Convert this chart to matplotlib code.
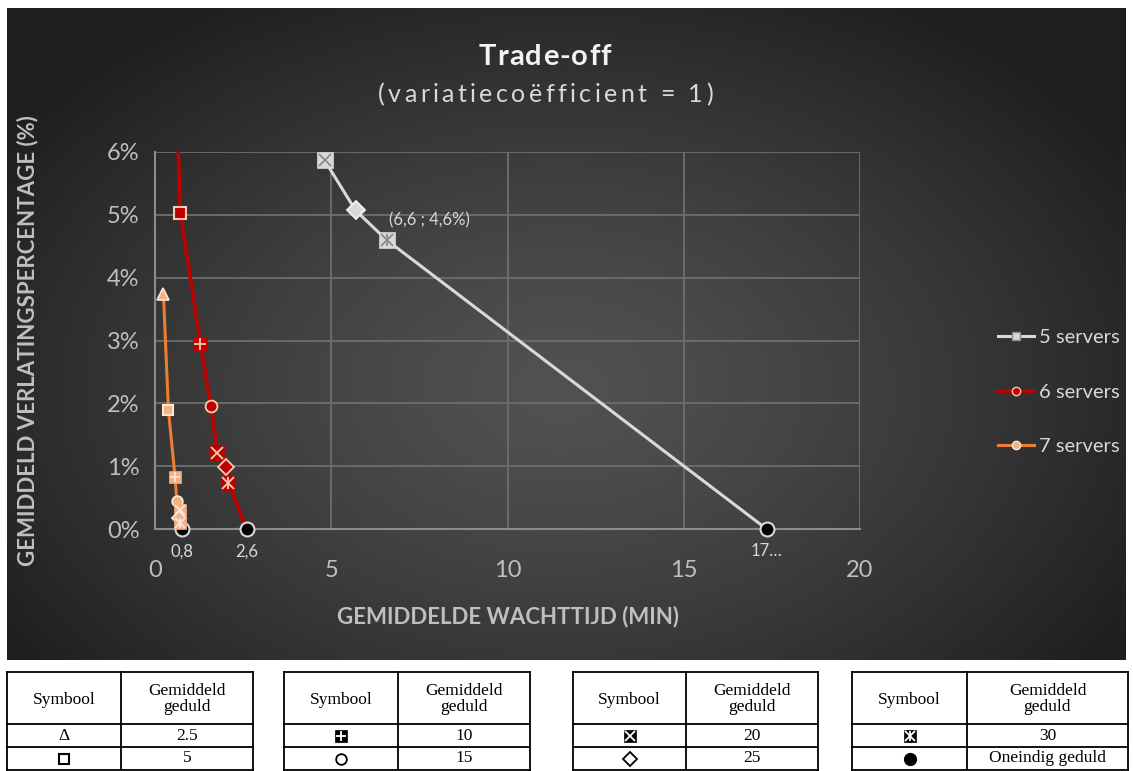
import numpy as np
import matplotlib.pyplot as plt
from matplotlib.lines import Line2D

# data (wachttijd in min, verlating in %)
patience5 = ['20', '25', '30', 'inf']
wait5 = [4.81, 5.69, 6.57, 17.35]
aband5 = [5.87, 5.07, 4.60, 0.0]

patience6 = ['2.5', '5', '10', '15', '20', '25', '30', 'inf']
wait6 = [0.54, 0.72, 1.29, 1.58, 1.77, 2.00, 2.08, 2.60]
aband6 = [8.0, 5.03, 2.95, 1.96, 1.21, 0.99, 0.74, 0.0]

patience7 = ['2.5', '5', '10', '15', '20', '25', '30', 'inf']
wait7 = [0.24, 0.38, 0.57, 0.62, 0.70, 0.67, 0.72, 0.78]
aband7 = [3.74, 1.90, 0.82, 0.45, 0.30, 0.17, 0.10, 0.0]

series_names = ['5 servers', '6 servers', '7 servers']
x_ticks = [0, 5, 10, 15, 20]
y_ticks = [0, 1, 2, 3, 4, 5, 6]

table_symbols = [['2.5', '5'], ['10', '15'], ['20', '25'], ['30', 'inf']]
table_values = [['2.5', '5'], ['10', '15'], ['20', '25'], ['30', 'Oneindig geduld']]

FONT = 'Lato'
TXT = '#d9d9d9'

W, H = 1133, 771
fig = plt.figure(figsize=(W / 100, H / 100), dpi=100)
fig.patch.set_facecolor('white')
renderer = fig.canvas.get_renderer()

# background axes in pixel coordinates
bg = fig.add_axes([0, 0, 1, 1])
bg.set_xlim(0, W)
bg.set_ylim(H, 0)
bg.axis('off')

cx0, cx1, cy0, cy1 = 7, 1126, 8, 660
gx, gy = np.meshgrid(np.linspace(cx0, cx1, 300), np.linspace(cy0, cy1, 200))
d = np.sqrt(((gx - 560) / 620) ** 2 + ((gy - 390) / 420) ** 2)
val = np.clip(0.32 - 0.18 * d ** 1.3, 0.12, 1)
img = np.dstack([val, val, val])
bg.imshow(img, extent=(cx0, cx1, cy1, cy0), aspect='auto', interpolation='bilinear')


def text_width(s, **kw):
    t = bg.text(0, 0, s + 'l', **kw)
    w1 = t.get_window_extent(renderer).width
    t.remove()
    t = bg.text(0, 0, 'l', **kw)
    w2 = t.get_window_extent(renderer).width
    t.remove()
    return w1 - w2


def spaced_text(xc, yc, s, target, **kw):
    # letter-spaced text like the Excel title
    natural = text_width(s, **kw)
    sp = (target - natural) / (len(s) - 1)
    x0 = xc - target / 2
    for i, ch in enumerate(s):
        off = text_width(s[:i], **kw) if i else 0
        bg.text(x0 + off + i * sp, yc, ch, ha='left', va='center', **kw)


def marker(a, x, y, kind, face, line, ms=8, z=5, edge=None):
    kw = dict(clip_on=False, zorder=z)
    if edge is None:
        edge = line
    if kind == '2.5':
        a.plot(x, y, '^', ms=ms, mfc=face, mec=edge, mew=1.2, **kw)
    elif kind == '5':
        a.plot(x, y, 's', ms=ms * 0.85, mfc=face, mec=edge, mew=1.5, **kw)
    elif kind == 'inf':
        a.plot(x, y, 'o', ms=ms, mfc=face, mec=edge, mew=1.5, **kw)
    elif kind == '15':
        a.plot(x, y, 'o', ms=ms * 0.85, mfc=face, mec=edge, mew=1.3, **kw)
    elif kind == '25':
        a.plot(x, y, 'D', ms=ms * 0.8, mfc=face, mec=edge, mew=1.3, **kw)
    else:
        a.plot(x, y, 's', ms=ms, mfc=face, mec=face, mew=0.5, **kw)
        sym = {'10': '+', '20': 'x', '30': 'x'}[kind]
        kw2 = dict(kw, zorder=z + 1)
        a.plot(x, y, sym, ms=ms * 0.8, mec=line, mew=1.3, **kw2)
        if kind == '30':
            a.plot(x, y, '|', ms=ms * 0.8, mec=line, mew=1.3, **kw2)


# main plot
ax = fig.add_axes([155 / W, 1 - 529 / H, 705 / W, 377 / H])
ax.set_facecolor('none')
ax.set_xlim(0, 20)
ax.set_ylim(0, 6)
ax.set_xticks(x_ticks)
ax.set_yticks(y_ticks)
ax.set_yticklabels([f'{t}%' for t in y_ticks])
ax.grid(True, color='#6e6e6e', lw=1.3)
ax.set_axisbelow(True)
for s in ['top', 'right']:
    ax.spines[s].set_visible(False)
for s in ['left', 'bottom']:
    ax.spines[s].set_color('#8c8c8c')
    ax.spines[s].set_linewidth(1.5)
ax.tick_params(length=0, colors='#bfbfbf', labelsize=17)
ax.tick_params(axis='x', pad=22)
ax.tick_params(axis='y', pad=11)
for lab in ax.get_xticklabels() + ax.get_yticklabels():
    lab.set_family(FONT)

c5, c6, c7 = '#d9d9d9', '#c00000', '#ed7d31'
ax.plot(wait5, aband5, color=c5, lw=2.2, zorder=3)
ax.plot(wait6, aband6, color=c6, lw=2.6, zorder=3)
ax.plot(wait7, aband7, color=c7, lw=2.2, zorder=3)

for x, y, k in zip(wait5, aband5, patience5):
    if k == 'inf':
        marker(ax, x, y, k, 'black', '#d9d9d9', ms=10)
    else:
        marker(ax, x, y, k, '#d9d9d9', '#8a8a8a', ms=11, edge='#f2f2f2')
for x, y, k in zip(wait6, aband6, patience6):
    if y > 6:
        continue
    if k == 'inf':
        marker(ax, x, y, k, 'black', '#d9d9d9', ms=10)
    else:
        marker(ax, x, y, k, '#c00000', '#f8cbad', ms=10)
for x, y, k in zip(wait7, aband7, patience7):
    if k == 'inf':
        marker(ax, x, y, k, 'black', '#d9d9d9', ms=10)
    else:
        marker(ax, x, y, k, '#f4b183', '#fbe5d6', ms=9, z=6)

# data labels
for xs, ys, txt in [(wait7, aband7, '0,8'), (wait6, aband6, '2,6'), (wait5, aband5, '17…')]:
    ax.annotate(txt, (xs[-1], ys[-1]), xytext=(0, -16), textcoords='offset points',
                ha='center', va='center', color=TXT, fontsize=12, family=FONT)
ax.annotate('(6,6 ; 4,6%)', (wait5[2], aband5[2]), xytext=(2, 14), textcoords='offset points',
            ha='left', va='center', color=TXT, fontsize=12, family=FONT)

ax.set_xlabel('GEMIDDELDE WACHTTIJD (MIN)', color='#bfbfbf', fontsize=16,
              fontweight='bold', family=FONT, labelpad=18)
ax.set_ylabel('GEMIDDELD VERLATINGSPERCENTAGE (%)', color='#bfbfbf', fontsize=16,
              fontweight='bold', family=FONT)
ax.yaxis.set_label_coords(-0.165, 0.5)

spaced_text(545, 57, 'Trade-off', 132, color='#f2f2f2', fontsize=21,
            fontweight='bold', family=FONT)
spaced_text(545, 95, '(variatiecoëfficient = 1)', 335, color=TXT, fontsize=18, family=FONT)

# legend
handles = [
    Line2D([], [], color=c5, lw=2.2, marker='s', ms=6, mfc='#d9d9d9', mec='#8a8a8a'),
    Line2D([], [], color=c6, lw=2.6, marker='o', ms=6, mfc='#c00000', mec='#f8cbad'),
    Line2D([], [], color=c7, lw=2.2, marker='o', ms=6, mfc='#f4b183', mec='#fbe5d6'),
]
fig.legend(handles, series_names, loc='center left', bbox_to_anchor=(998 / W, 1 - 392 / H),
           frameon=False, labelcolor=TXT, handlelength=1.8, borderpad=0, borderaxespad=0,
           handletextpad=0.25, labelspacing=1.85, prop={'family': FONT, 'size': 14.5})

# tables below the chart
lefts = [7, 284, 573, 852]
splits = [121, 398, 686, 967]
rights = [253, 530, 818, 1128]
rows = [672, 724, 747, 770]
SERIF = dict(family='Liberation Serif', color='black', fontsize=12.5)
for i in range(4):
    l, m, r = lefts[i], splits[i], rights[i]
    for yy in rows:
        bg.plot([l, r], [yy, yy], color='black', lw=1.3)
    for xx in (l, m, r):
        bg.plot([xx, xx], [rows[0], rows[-1]], color='black', lw=1.3)
    bg.text((l + m) / 2, (rows[0] + rows[1]) / 2 + 2, 'Symbool', ha='center', va='center', **SERIF)
    bg.text((m + r) / 2, (rows[0] + rows[1]) / 2 + 1, 'Gemiddeld\ngeduld', ha='center',
            va='center', linespacing=0.95, **SERIF)
    for j in range(2):
        yc = (rows[j + 1] + rows[j + 2]) / 2
        bg.text((m + r) / 2, yc, table_values[i][j], ha='center', va='center', **SERIF)
        k = table_symbols[i][j]
        xc = (l + m) / 2
        if k == '2.5':
            bg.text(xc, yc, 'Δ', ha='center', va='center', **SERIF)
        elif k in ('5', '15'):
            marker(bg, xc, yc, k, 'white', 'black', ms=9)
        elif k == '25':
            marker(bg, xc, yc, k, 'white', 'black', ms=9.5)
        elif k == 'inf':
            marker(bg, xc, yc, k, 'black', 'black', ms=8)
        else:
            marker(bg, xc, yc, k, 'black', 'white', ms=9)

fig.savefig('out.png', dpi=100)
